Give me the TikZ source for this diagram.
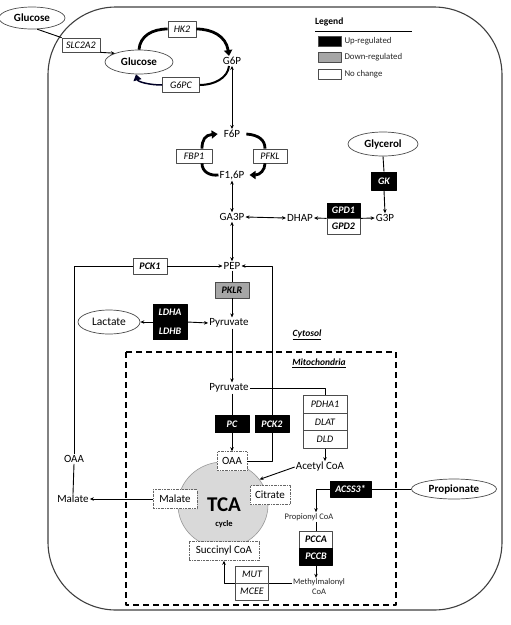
\documentclass[tikz,border=0pt]{standalone}
\usepackage{fontspec}
\setmainfont{Carlito}
\usetikzlibrary{arrows.meta,shapes.geometric}
\begin{document}
\begin{tikzpicture}[x=1pt,y=-1pt,
  line join=round,
  met/.style={inner sep=1pt, font=\fontsize{11}{13}\selectfont},
  smet/.style={inner sep=1pt, font=\fontsize{8.5}{10}\selectfont, text=black!85, align=center},
  gbox/.style={draw=black!70, line width=0.7pt, fill=white, inner sep=0pt, minimum height=16pt, minimum width=#1, font=\fontsize{10}{12}\selectfont\itshape},
  gbox/.default=34pt,
  ncb/.style={gbox=#1, font=\fontsize{10}{12}\selectfont\bfseries\itshape},
  ncb/.default=34pt,
  upb/.style={gbox=#1, fill=black, draw=black, text=white, font=\fontsize{10}{12}\selectfont\bfseries\itshape},
  upb/.default=34pt,
  dnb/.style={gbox=#1, fill=black!35, draw=black!70, font=\fontsize{10}{12}\selectfont\bfseries\itshape},
  dnb/.default=34pt,
  ell/.style={ellipse, draw=black!70, line width=0.7pt, fill=white, inner sep=0pt, minimum width=#1, minimum height=24pt, font=\fontsize{11}{13}\selectfont\bfseries},
  mbox/.style={draw=black!60, line width=0.5pt, dash pattern=on 2pt off 1pt on 0.5pt off 1pt, fill=white, inner sep=0pt, minimum height=19pt, minimum width=#1, font=\fontsize{11}{13}\selectfont},
  lbl/.style={font=\fontsize{9.5}{11}\selectfont\bfseries\itshape},
  ln/.style={line width=0.9pt},
  arr/.style={line width=0.9pt, -{Stealth[length=4pt,width=3.5pt]}},
  darr/.style={line width=0.9pt, {Stealth[length=4pt,width=3.5pt]}-{Stealth[length=4pt,width=3.5pt]}},
  cyc/.style={line width=2.8pt},
  cycarr/.style={line width=2.8pt, -{Triangle[length=6pt,width=8pt]}},
  lgbox/.style={draw=black!70, line width=0.6pt, minimum width=23pt, minimum height=10pt, inner sep=0pt},
  lgtxt/.style={anchor=west, inner sep=3pt, font=\fontsize{8.8}{10}\selectfont, text=black!85},
]
\fill[white] (0,0) rectangle (511,625);
\useasboundingbox (0,0) rectangle (511,625);

% cell and mitochondrion
\draw[line width=1.1pt, draw=black!75, rounded corners=68pt] (48,7) rectangle (502,610);
\draw[line width=1.2pt, dash pattern=on 6pt off 4pt] (126,352) rectangle (396,605);

% legend
\node[anchor=west, inner sep=0pt, font=\fontsize{9.5}{11}\selectfont\bfseries] (lgt) at (315,22) {Legend};
\draw[line width=1pt] (315,31) -- (412,31);
\node[lgbox, fill=black] (lg1) at (329.5,41) {};
\node[lgtxt] at (lg1.east) {Up-regulated};
\node[lgbox, fill=black!35] (lg2) at (329.5,57) {};
\node[lgtxt] at (lg2.east) {Down-regulated};
\node[lgbox, fill=white] (lg3) at (329.5,74) {};
\node[lgtxt] at (lg3.east) {No change};

% TCA cycle
\node[ellipse, fill=black!15, draw=black!40, line width=0.6pt, minimum width=90pt, minimum height=86pt] (tca) at (223,505) {};
\node[font=\fontsize{21}{22}\selectfont\bfseries, inner sep=0pt] (tcat) at (224,505) {TCA};
\node[font=\fontsize{8.5}{10}\selectfont\bfseries, inner sep=0pt] (tcac) at (224,524) {cycle};

% metabolites
\node[ell=66pt, minimum height=22pt] (glc0) at (32,18) {Glucose};
\node[gbox=38pt, minimum height=14pt] (slc) at (81,45) {SLC2A2};
\node[ell=68pt] (glc) at (139,62) {Glucose};
\node[gbox=28pt] (hk2) at (182,29) {HK2};
\node[gbox=37pt, minimum height=15pt] (g6pc) at (181,85) {G6PC};
\node[met] (g6p) at (232,61) {G6P};
\node[met] (f6p) at (232,134) {F6P};
\node[met] (f16p) at (232,175) {F1,6P};
\node[gbox=36pt, minimum height=14pt] (fbp1) at (194,156) {FBP1};
\node[gbox=34pt, minimum height=14pt] (pfkl) at (270,156) {PFKL};
\node[met] (ga3p) at (232,217) {GA3P};
\node[met] (dhap) at (300,218) {DHAP};
\node[upb=33pt, minimum height=15pt] (gpd1) at (343.5,210.5) {GPD1};
\node[ncb=33pt, minimum height=16pt] (gpd2) at (343.5,226) {GPD2};
\node[met] (g3p) at (385,218) {G3P};
\node[ell=70pt] (glyc) at (383,144) {Glycerol};
\node[upb=25pt, minimum height=18pt] (gk) at (384,181) {GK};
\node[met] (pep) at (232,266) {PEP};
\node[ncb] (pck1) at (150,266) {PCK1};
\node[dnb] (pklr) at (232,290) {PKLR};
\node[met] (pyr1) at (229,323) {Pyruvate};
\node[upb, minimum height=35pt, align=center, font=\fontsize{10}{19}\selectfont\bfseries\itshape] (ldh) at (170,322) {LDHA\\LDHB};
\node[ell=62pt, font=\fontsize{11.5}{13}\selectfont] (lac) at (109,322) {Lactate};
\node[lbl] (cyt) at (307,335) {\underline{Cytosol}};
\node[lbl] (mito) at (319,363) {\underline{Mitochondria}};
\node[met] (pyr2) at (229,388) {Pyruvate};
\node[upb, minimum height=17pt] (pc) at (232,424) {PC};
\node[upb, minimum height=17pt] (pck2) at (272,424) {PCK2};
\node[gbox=44pt, minimum height=17.5pt] (pdh1) at (325,404.5) {PDHA1};
\node[gbox=44pt, minimum height=17.5pt] (dlat) at (325,422) {DLAT};
\node[gbox=44pt, minimum height=17.5pt] (dld) at (325,439.5) {DLD};
\node[met] (acoa) at (320,467) {Acetyl CoA};
\node[mbox=30pt] (oaa) at (232,461) {OAA};
\node[mbox=40pt] (cit) at (270,495) {Citrate};
\node[mbox=44pt] (malb) at (175,499) {Malate};
\node[mbox=70pt] (succ) at (224,551) {Succinyl CoA};
\node[gbox=33pt, minimum height=17pt] (mut) at (252,574.5) {MUT};
\node[gbox=33pt, minimum height=17pt] (mcee) at (252,591.5) {MCEE};
\node[smet] (mm) at (319,587) {Methylmalonyl\\CoA};
\node[smet] (pcoa) at (309,517) {Propionyl CoA};
\node[ncb=33pt, minimum height=17pt] (pcca) at (316,539.5) {PCCA};
\node[upb=33pt, minimum height=17pt] (pccb) at (316,556.5) {PCCB};
\node[upb=41pt] (acss) at (350.5,489) {ACSS3*};
\node[ell=85pt, minimum height=20pt] (prop) at (454,489) {Propionate};
\node[met] (oaa0) at (74,459) {OAA};
\node[met] (mal0) at (73,499) {Malate};

% glucose / G6P cycle
\draw[cyc] (glc.north) .. controls (140,36) and (152,29) .. (hk2.west);
\draw[cycarr] (hk2.east) .. controls (212,29) and (226,36) .. ([xshift=-3pt]g6p.north);
\draw[line width=2pt] ([xshift=-3pt]g6p.south) .. controls (228,78) and (214,85) .. (g6pc.east);
\draw[line width=1.5pt, draw=black!85!blue, -{Triangle[length=6pt,width=8pt]}] (g6pc.west) .. controls (150,85) and (138,82) .. ([xshift=-3pt]glc.south);

% F6P / F1,6P cycle
\draw[cyc] (f16p.west) .. controls (210,176) and (202,172) .. ([xshift=8pt]fbp1.south);
\draw[cycarr] ([xshift=8pt]fbp1.north) .. controls (202,140) and (205,135) .. ([xshift=-5pt]f6p.west);
\draw[cyc] ([xshift=5pt]f6p.east) .. controls (259,135) and (265,140) .. ([xshift=-5pt]pfkl.north);
\draw[cycarr] ([xshift=-5pt]pfkl.south) .. controls (265,170) and (260,175) .. ([xshift=4pt]f16p.east);

% transport
\draw[ln] (glc0.-65) -- (slc.north west);
\draw[arr] (slc.south east) -- (glc.160);

% glycolysis
\draw[darr] (g6p.south) -- (f6p.north);
\draw[darr] (f16p.south) -- (ga3p.north);
\draw[darr] (ga3p.east) -- (dhap.west);
\draw[arr] (gpd1.south west) -- (dhap.east);
\draw[arr] (gpd1.south east) -- (g3p.west);
\draw[ln] (glyc.south) -- (gk.north);
\draw[arr] (gk.south) -- (g3p.north);
\draw[darr] (ga3p.south) -- (pep.north);
\draw[ln] (pep.south) -- (pklr.north);
\draw[arr] (pklr.south) -- (pklr.south |- pyr1.north);
\draw[arr] (ldh.west) -- (lac.east);
\draw[arr] (ldh.east) -- (pyr1.west);
\draw[arr] (pyr1.south -| pklr.south) -- (pyr2.north -| pklr.south);

% mitochondria
\draw[ln] (pyr2.south -| pc.north) -- (pc.north);
\draw[arr] (pc.south) -- (oaa.north);
\draw[ln] (oaa.east) -| (pck2.south);
\draw[arr] (pck2.north) |- (pep.east);
\draw[ln] (pyr2.east) -| (pdh1.north);
\draw[arr] (dld.south) -- (dld.south |- acoa.north);
\draw[arr] (acoa.west) -- (tca.35);
\draw[arr] (malb.west) -- (mal0.east);
\draw[ln] (mal0.north) -- (oaa0.south);
\draw[ln] (oaa0.north) |- (pck1.west);
\draw[arr] (pck1.east) -- (pep.west);

% propionate
\draw[ln] (prop.west) -- (acss.east);
\draw[arr] (acss.west) -| (pcoa.north -| pcca.north);
\draw[ln] (pcoa.south -| pcca.north) -- (pcca.north);
\draw[arr] (pccb.south) -- (mm.north -| pccb.south);
\draw[ln] (mm.west |- mut.south east) -- (mut.south east);
\draw[arr] (mut.south west) -| (succ.south);
\end{tikzpicture}
\end{document}
